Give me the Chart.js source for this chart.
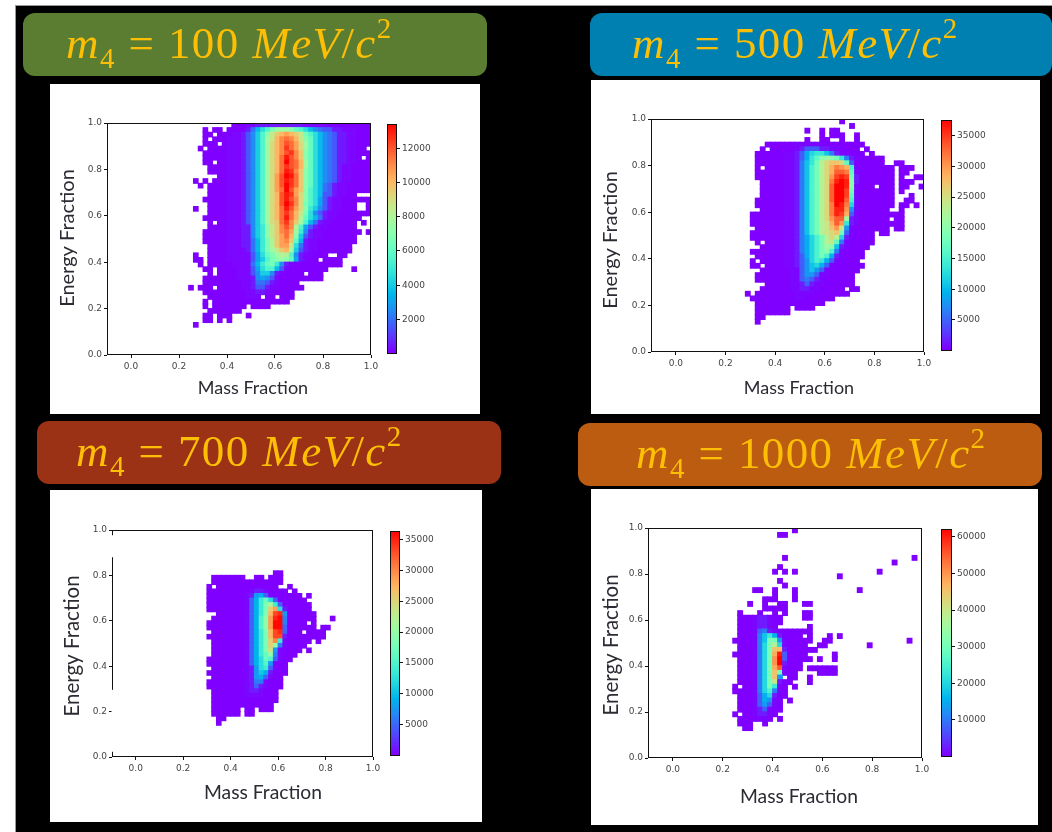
<!DOCTYPE html>
<html><head><meta charset="utf-8">
<script src="https://cdn.jsdelivr.net/npm/chart.js@4/dist/chart.umd.min.js"></script>
<style>
html,body{margin:0;padding:0;width:1052px;height:832px;overflow:hidden;background:#fff}
#sheet{position:absolute;left:15px;top:5px;right:0;bottom:0;background:#000;border-left:1px solid #999;border-top:1px solid #999;box-sizing:border-box}
.banner{position:absolute;border-radius:12px;height:63px;color:#fdbf05;font-family:"Liberation Serif",serif;font-size:45px;line-height:60px;white-space:nowrap;box-sizing:border-box;filter:blur(.4px)}
.banner i{font-style:italic}
.banner sub{font-size:29px;line-height:0;vertical-align:-10px}
.banner sup{font-size:29px;line-height:0;vertical-align:20px}
.card{position:absolute;background:#fff;filter:blur(.6px);border:0}
canvas{position:absolute;display:block}
</style></head><body>
<div id="sheet"></div>
<script>
/* Tick labels */
const massTicks=[0,0.2,0.4,0.6,0.8,1.0];
const energyTicks=[0,0.2,0.4,0.6,0.8,1.0];
const cbTicks100=[2000,4000,6000,8000,10000,12000];
const cbTicks500=[5000,10000,15000,20000,25000,30000,35000];
const cbTicks700=[5000,10000,15000,20000,25000,30000,35000];
const cbTicks1000=[10000,20000,30000,40000,50000,60000];
const axisX="Mass Fraction", axisY="Energy Fraction";
const masses=[100,500,700,1000];
const binWidth=0.02;
/* Count multipliers for the three faintest levels; higher levels count as themselves */
const faintLevels=[0,0.2,0.8];

/* Histogram counts: one string per energy bin (top row first), one base-36 char per mass bin,
   in units of the panel's count step; '.' = empty bin */
const countStep100=500, firstBin100=12, topRow100=49;
const rows100=[
"..."+"......000"+"11222222222211111000000000",
"..."+"0.00.0000"+"2479bdfffecb97543322111000",
"..."+"00.000112"+"358behjklkjhdb975432211000",
"..."+"0.0001112"+"358bfhkmnmkhec975432211000",
"..."+"000.01112"+"358bfikmonlifc975432211000",
"..0"+".00001112"+"358bfikmpnlifc97543221100.",
"..."+"000001112"+"358bfikmopmjec975432211000",
"..."+"000001112"+"358bfiknqomjec9754322110.0",
"..."+"00.001112"+"358bfiknronkfc975432211000",
"..."+".00001112"+"358bfiknponkfc975432110000",
"..."+".00001112"+"358bfiknqpmjec975432110000",
"..."+"...001112"+"358bfilorqnjec975432110000",
".0."+"0.0001112"+"358bfiloqpnjec975432110000",
"..0"+".00001112"+"358bfilorpnjec974321100000",
"..."+".00001112"+"358bfilnroljeb974321100000",
"..."+".00001112"+"358bfikoqplieb973321100...",
"..."+"000001112"+"358bfikoqomieb963211000000",
"..."+".00001112"+"358bfikorpmidb963211000..0",
".0."+".00001112"+"358bfiknqoliea853211000..0",
"..."+".00001112"+"358bfiknpnkhd9532110000000",
"..."+"000001112"+"358bfiknqnkgc97421100000..",
"..."+".0.001112"+"358bfijnpmjfb7421100000.0.",
"..."+".00001112"+"258aehjmomgb63211000000...",
"..."+"000001112"+"258aehjmnlfa521100000000.0",
"..."+"000001112"+"258aehjlnke832110000000...",
"..."+"000001112"+"247adgjlmjc721100000000...",
"..."+".00001112"+"247adgjllh942110000000....",
"..."+".00001111"+"247adfhjkf832110000000....",
".0."+".00001111"+"1369cdfggb5211000..00",
".00"+".00001111"+"1368bdefec62100.0000",
"..0"+".00000111"+"147acda5210000000000",
"..."+"00.000011"+"1369bb73100000000.....0",
"..."+".0.000011"+"135885210000.000",
"..."+"000000011"+"1256531000000000",
"..."+"000000001"+"12443210000",
"0.0"+"00.000001"+"123321100000",
"..."+"000000000"+"1122110000",
"..."+".00000000"+"111.00.000",
"..."+"0.0000000"+"000000000",
"..."+"0.0000000"+".0000",
"..."+".0000000.",
"..."+"00.000...0",
"..."+"00.0.0",
".0."
];

const countStep500=1500, firstBin500=14, topRow500=49;
const rows500=[
"...................0",
".....................0",
"............0..0.00",
"...............0.000..0",
"............0..00..0..0",
"...."+"000000"+"11111100"+"000000",
"...0.00000123332211"+"0000.0",
".."+"00000011"+"2368997421"+"0000.0",
".."+"00000011"+"2369bdedc9421"+"00000",
".."+"00000011"+"2479cfhiihb30"+"00000..00",
".."+"0.000011"+"247acfhjlkja1"+"0000000.000",
".."+"00000011"+"247acfhjmmlb1"+"0000000.00",
".."+"00000011"+"247acfhknonc2"+"0000000.0..00",
"..."+"0000011"+"247acfhlopod2"+"0000000.000",
"..."+"0000011"+"247acfhmppod1"+"000.000.00..0",
"..."+"0000011"+"247acfhmppnc1"+"0000000.0",
"..."+"0000011"+"247acfhmppnb1"+"0000000...0",
".."+"00000011"+"247acfhmppma1"+"0000000..00",
".."+"00000011"+"247acfhlpol81"+"0000000.00.0",
"..."+"0000011"+"247acfhlook51"+"000000..0",
".0"+"00000011"+"247acfhlonj31"+"000000000",
".0"+"00000011"+"247acfhkmme21"+"000000.00",
".0"+"00000011"+"247acfgjmk921"+"000000000",
".."+"00000011"+"247acfgikg510"+"000000.00",
".0"+"00000011"+"247acfghic310"+"000.00",
".0"+"00000011"+"2468acfhf8210"+"000",
".."+"0.000011"+"2468acfgb4100"+"000",
"..."+"0000011"+"2468aced72100"+"00",
".0"+"00000011"+"2468acda41000"+"0",
".."+"00000011"+"2368aca621000"+"0",
".0"+".0000011"+"2358a96310000",
".0"+"0.000011"+"235786310000"+"00",
"..."+"0000001"+"135753100000"+"0",
".."+"00000001"+"135531100000",
".."+"00000001"+"13432100000"+"0",
"...."+"000001"+"123211000000",
"..."+"0000001"+"1221100000.00",
"0."+"00000000"+"11110000000",
".0"+"00000000"+"11000000",
".."+"00000000"+"000000",
".."+"0000000."+"0000",
".."+"0000000",
"..00",
"..0"
];

const countStep700=1500, firstBin700=15, topRow700=40;
const rows700=[
"..............00",
"."+"0000000"+".."+"00"+"."+"000",
"."+"000000000000000",
"0."+"0000000000000"+".."+"0",
"000000000"+"1221"+"0000.0",
"00000000"+"1"+"25631"+"000000.0",
"00000000"+"1"+"369b83"+"000000",
"00000000"+"1"+"369ce93"+"000000",
"00000000"+"1"+"369chj82"+"00000",
"..0000001"+"369cimn5"+"000000",
"."+"00000001"+"36adjno4"+"000000...0",
"000000001"+"36adjoo4"+"0000.0",
"000000001"+"36adjoo3"+"000000.00",
"."+"00000001"+"369cimn3"+"000.0000",
"000000001"+"369cimm2"+"00000000",
"."+"00000001"+"369chk91"+"00000.0",
"."+"00000001"+"369chd41"+"0000",
"."+"00000001"+"369cg510"+"000.0",
"."+"00000001"+"369bd410"+"00",
"000000001"+"368ba310"+"0",
"000000001"+"368a5100",
"."+"00000001"+"25893100",
"000000001"+"25762000",
"."+"00000001"+"2563100",
"000000001"+"2441000",
"000000001"+"2321000",
"."+"00000001"+"221000",
"."+"00000001"+"111000",
"."+"00000000"+"000000",
"."+"00000000"+"00000",
"."+"000000.00.000",
"."+"000000.00",
"..00",
"..0"
];

const countStep1000=2500, firstBin1000=12, topRow1000=49;
const rows1000=[
"............0",
".........00",
"","","","",
"..........0.........................0",
"................................0",
".........0",
"........0.0.0................0",
".....................0",
".........0",
"..........0",
"....00..0...0............0",
"........0...0",
"......000...0",
"...0..0..00...00",
"......00000",
".0...0..0.0...00",
"."+"000122100"+"....00",
"."+"000122100",
"."+"00012210"+"......0",
"."+"000134210000"+"000",
"."+"000147962000"+"0.0...0.0",
"0"+"000147cc5100"+"000..00"+"...............0",
"."+"000148cf8100"+"00..00........0",
"."+"000148cii200"+"0000",
"0"+"000148cjo300"+"00.....0",
"."+"000148ckp300"+"000.0..0",
"."+"000148ckp200"+"0",
"."+"000148cjm100"+"0.000000",
"."+"000148cic100"+"....0000",
"."+"000148ci5.00"+"..0",
"."+"000148cg200"+"...0",
"0.00148c910.0",
"0"+"000148a410",
"."+"0001368200",
"."+"000136510.0",
"."+"000135310",
"."+"000123100",
"0.0012210",
"."+"0000110.0",
"."+"000..0",
"..00"
];

/* Colour-bar ranges */
const vmax100=13400, vmax500=37500, vmax700=36300, vmax1000=62000;

/* Layout only */
const layouts=[
 {mass:100,bg:"#5b7d31",banner:[23,13,464],textX:43,ls:1.4,card:[50,84,430,330],plot:[107,123,371,355],cb:[387,123,397,355],mx:[253,388],ey:[68,238],fs:18,efs:20},
 {mass:500,bg:"#0080b0",banner:[590,13,462],textX:42,ls:1.4,card:[591,80,449,334],plot:[651,119,924,352],cb:[941,119,952,352],mx:[799,388],ey:[611,240],fs:18,efs:20},
 {mass:700,bg:"#9c3215",banner:[37,421,464],textX:39,ls:1.4,card:[50,490,432,332],plot:[112,530,373,757],cb:[390,530,400,757],mx:[263,793],ey:[72,646],fs:19.3,efs:20.5,gaps:[[0.977,0.88],[0.296,0.023]]},
 {mass:1000,bg:"#bb5c10",banner:[578,423,464],textX:58,ls:1.4,card:[591,489,447,336],plot:[648,528,922,758],cb:[941,528,952,758],mx:[799,797],ey:[611,645],fs:19.3,efs:20.5}
];

function rainbow(t){
  t=Math.max(0,Math.min(1,t));
  const r=Math.min(1,Math.abs(2*t-0.5)),g=Math.sin(Math.PI*t),b=Math.cos(Math.PI*t/2);
  return `rgb(${Math.round(r*255)},${Math.round(g*255)},${Math.round(b*255)})`;
}
function decode(rows,first,top,step){
  const pts=[];
  rows.forEach((row,k)=>{[...row].forEach((c,n)=>{
    const i=first+n; if(c==='.'||i>49) return;
    const lvl=parseInt(c,36);
    pts.push({x:(i+0.5)*binWidth,y:(top-k+0.5)*binWidth,v:(lvl<faintLevels.length?faintLevels[lvl]:lvl)*step});
  });});
  return pts;
}
const frame={id:'frame',afterDraw(ch,_,o){
  const a=ch.chartArea,x=ch.ctx;x.save();x.strokeStyle='#111';x.lineWidth=1;
  const l=Math.round(a.left)+.5,r=Math.round(a.right)-.5,t=Math.round(a.top)+.5,b=Math.round(a.bottom)-.5;
  x.strokeRect(l,t,r-l,b-t);
  (o.gaps||[]).forEach(g=>{const s=ch.scales.y;x.strokeStyle='#fff';x.lineWidth=2;x.beginPath();x.moveTo(l,s.getPixelForValue(g[0]));x.lineTo(l,s.getPixelForValue(g[1]));x.stroke();});
  x.restore();
}};
const captions={id:'captions',afterDraw(ch,_,o){
  if(!o.mass) return;
  const x=ch.ctx;x.save();x.fillStyle='#2b2b33';x.textAlign='center';x.textBaseline='middle';
  x.font=`${o.size}px Lato`;x.fillText(axisX,o.mass[0],o.mass[1]);
  x.font=`${o.esize}px Lato`;x.translate(o.energy[0],o.energy[1]);x.rotate(-Math.PI/2);x.fillText(axisY,0,0);
  x.restore();
}};
const tickFont={family:'"DejaVu Sans"',size:9};
const fixedTicks=v=>s=>{s.ticks=v.map(value=>({value}));};

function heat(L,rows,first,top,step,vmax){
  const [cx,cy,cw,ch]=L.card,[pl,pt,pr,pb]=L.plot;
  const card=document.createElement('div');card.className='card';
  card.style.cssText=`left:${cx}px;top:${cy}px;width:${cw}px;height:${ch}px`;
  document.body.appendChild(card);
  const c=document.createElement('canvas');c.width=cw;c.height=ch;c.style.left='0';c.style.top='0';card.appendChild(c);
  const yw=30,xh=25,cell=(pr-pl)/1.1*binWidth;
  new Chart(c,{type:'scatter',data:{datasets:[{data:decode(rows,first,top,step),pointStyle:'rect',pointRadius:(cell+0.9)/Math.SQRT2,pointBorderWidth:0,
      pointBackgroundColor:p=>p.raw?rainbow(p.raw.v/vmax):'#000'}]},
    plugins:[frame,captions],
    options:{responsive:false,animation:false,events:[],
      layout:{autoPadding:false,padding:{left:pl-cx-yw,top:pt-cy,right:cx+cw-pr,bottom:cy+ch-pb-xh}},
      plugins:{legend:{display:false},tooltip:{enabled:false},frame:{gaps:L.gaps},
        captions:{mass:[L.mx[0]-cx,L.mx[1]-cy],energy:[L.ey[0]-cx,L.ey[1]-cy],size:L.fs,esize:L.efs}},
      scales:{
        x:{type:'linear',min:-0.1,max:1.0,afterBuildTicks:fixedTicks(massTicks),afterFit:s=>{s.height=xh;},border:{display:false},
           grid:{drawOnChartArea:false,tickLength:3,color:'#111'},ticks:{font:tickFont,color:'#444',padding:3,maxRotation:0,autoSkip:false,callback:v=>v.toFixed(1)}},
        y:{type:'linear',min:0,max:1.0,afterBuildTicks:fixedTicks(energyTicks),afterFit:s=>{s.width=yw;},border:{display:false},
           grid:{drawOnChartArea:false,tickLength:3,color:'#111'},ticks:{font:tickFont,color:'#444',padding:2,autoSkip:false,callback:v=>v.toFixed(1)}}
      }}});
  return card;
}
function colorbar(L,card,vmax,ticks){
  const [cx,cy]=L.card,[bl,bt,br,bb]=L.cb,w=br-bl+48,h=bb-bt+12;
  const c=document.createElement('canvas');c.width=w;c.height=h;c.style.left=(bl-cx-2)+'px';c.style.top=(bt-cy-6)+'px';card.appendChild(c);
  const n=120,ds=[];
  for(let k=0;k<n;k++){const lo=vmax*k/n,hi=vmax*(k+1.5)/n;
    ds.push({data:[[lo,hi]],backgroundColor:rainbow((k+.5)/n),borderWidth:0,barPercentage:1,categoryPercentage:1,grouped:false});}
  new Chart(c,{type:'bar',data:{labels:['counts'],datasets:ds},plugins:[frame],
    options:{responsive:false,animation:false,events:[],
      layout:{autoPadding:false,padding:{left:2,top:6,right:0,bottom:6}},
      plugins:{legend:{display:false},tooltip:{enabled:false}},
      scales:{x:{display:false,stacked:false},
        y:{position:'right',min:0,max:vmax,afterBuildTicks:fixedTicks(ticks),afterFit:s=>{s.width=w-2-(br-bl);},border:{display:false},
           grid:{drawOnChartArea:false,tickLength:3,color:'#111'},ticks:{font:tickFont,color:'#444',padding:2,autoSkip:false,callback:v=>String(v)}}}
    }});
}
function banner(L){
  const d=document.createElement('div');d.className='banner';
  d.style.cssText=`left:${L.banner[0]}px;top:${L.banner[1]}px;width:${L.banner[2]}px;background:${L.bg};padding-left:${L.textX}px;letter-spacing:${L.ls}px`;
  d.innerHTML=`<i>m</i><sub>4</sub> = ${L.mass} <i>MeV</i>/<i>c</i><sup>2</sup>`;
  document.body.appendChild(d);
}
const panelRows=[[rows100,firstBin100,topRow100,countStep100,vmax100,cbTicks100],
 [rows500,firstBin500,topRow500,countStep500,vmax500,cbTicks500],
 [rows700,firstBin700,topRow700,countStep700,vmax700,cbTicks700],
 [rows1000,firstBin1000,topRow1000,countStep1000,vmax1000,cbTicks1000]];
layouts.forEach((L,i)=>{
  const [r,f,t,s,v,k]=panelRows[i];
  banner(L);
  const card=heat(L,r,f,t,s,v);
  colorbar(L,card,v,k);
});
</script>
</body></html>
